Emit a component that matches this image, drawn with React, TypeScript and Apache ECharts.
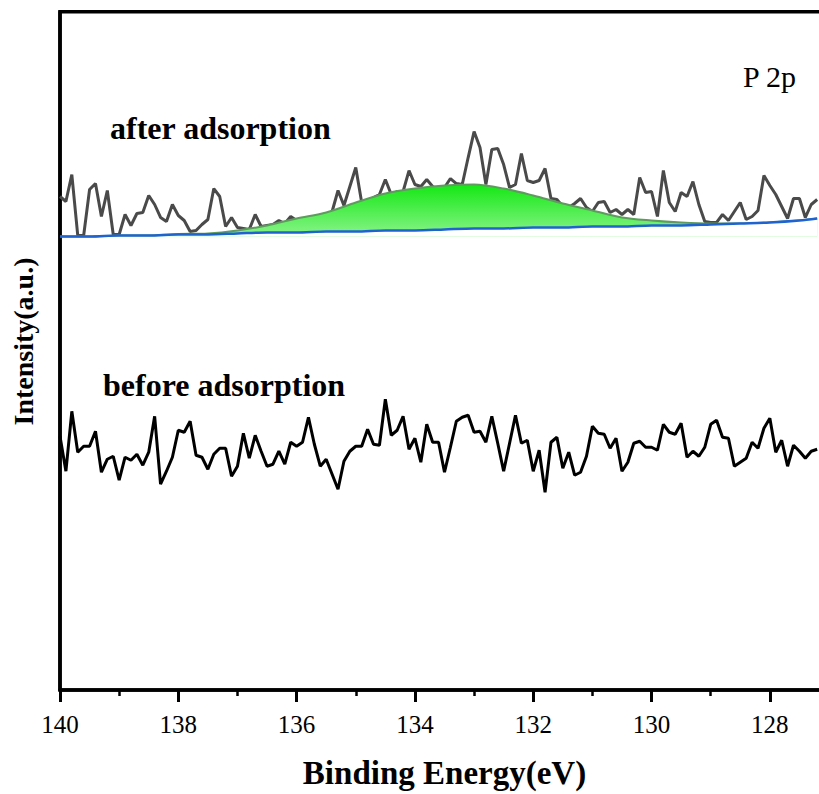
import { useEffect, useRef } from "react";
import * as echarts from "echarts";

// Binding energy grid (eV), 0.1 eV step from 140.0 to 127.2
const energies = Array.from({ length: 129 }, (_, i) => Math.round((140 - 0.1 * i) * 10) / 10);

// Raw spectrum before adsorption (a.u.)
const beforeIntensity = [
  254, 219, 279, 238, 244, 244, 259, 218, 231, 234,
  210, 233, 230, 236, 225, 238, 274, 206, 219, 233,
  260, 258, 269, 235, 233, 221, 236, 242, 242, 214,
  224, 257, 232, 255, 239, 224, 226, 239, 226, 248,
  244, 248, 273, 246, 224, 231, 216, 201, 229, 239,
  244, 244, 261, 246, 245, 291, 255, 260, 274, 241,
  252, 228, 266, 248, 248, 218, 243, 269, 273, 275,
  258, 259, 248, 274, 247, 219, 247, 275, 247, 250,
  219, 240, 198, 248, 253, 222, 238, 215, 218, 234,
  264, 257, 256, 242, 252, 219, 228, 247, 249, 243,
  243, 240, 266, 258, 256, 267, 233, 239, 234, 243,
  266, 270, 253, 252, 224, 228, 232, 248, 242, 262,
  272, 238, 250, 224, 245, 239, 232, 239, 241,
];

// Raw spectrum after adsorption (a.u.)
const afterIntensity = [
  494, 489, 516, 455, 455, 501, 507, 474, 500, 456,
  456, 476, 465, 477, 478, 495, 486, 473, 469, 486,
  475, 470, 459, 460, 466, 471, 502, 494, 464, 473,
  463, 462, 461, 476, 464, 465, 466, 470, 467, 474,
  470, 469, 468, 471, 474, 475, 479, 500, 485, 504,
  523, 488, 490, 493, 496, 511, 496, 499, 499, 520,
  506, 504, 511, 504, 501, 503, 512, 507, 506, 533,
  559, 543, 506, 541, 542, 526, 503, 506, 537, 510,
  508, 510, 522, 492, 491, 484, 483, 487, 492, 483,
  479, 488, 489, 478, 481, 476, 481, 476, 513, 498,
  499, 474, 520, 488, 479, 498, 494, 509, 486, 469,
  468, 468, 476, 470, 479, 488, 471, 474, 480, 515,
  505, 496, 484, 472, 492, 492, 473, 486, 491,
];

// Fit: background and P 2p component (height above background)
const fitEnergies = [
  140, 139.5, 139, 138.5, 138, 137.5, 137, 136.5, 136, 135.5, 135, 134.5, 134,
  133.5, 133, 132.5, 132, 131.5, 131, 130.5, 130, 129.5, 129, 128.5, 128, 127.5, 127.2,
];
const fitBackground = [
  454, 454, 455, 455, 456, 456, 457, 458, 458, 459, 459, 460, 460,
  461, 462, 462, 463, 463, 464, 464, 465, 465, 466, 467, 468, 470, 472,
];
const fitPeak = [
  0, 0, 0, 0, 0.5, 1, 3, 7, 14, 19, 29, 37, 42,
  44, 44, 40, 32, 24, 16, 9, 5, 3, 1, 0, 0, 0, 0,
];

const majorTicks = [128, 130, 132, 134, 136, 138, 140];
const minorTicks = [127, 129, 131, 133, 135, 137, 139];

export default function App() {
  const ref = useRef<HTMLDivElement>(null);

  useEffect(() => {
    document.body.style.margin = "0";
    document.body.style.overflow = "hidden";
    const chart = echarts.init(ref.current!, null, { renderer: "svg" });
    const serif = "'Liberation Serif', 'Times New Roman', serif";
    const bgMin = Math.min(...fitBackground);
    const envelope = fitEnergies.map((e, i) => [e, fitBackground[i] + fitPeak[i]]);

    chart.setOption({
      animation: false,
      backgroundColor: "#ffffff",
      grid: {
        left: 60,
        top: 11.7,
        right: 0,
        bottom: 103.3,
        show: true,
        borderColor: "#000",
        borderWidth: 3.5,
        backgroundColor: "transparent",
      },
      xAxis: [
        {
          type: "value",
          min: 127,
          max: 140,
          inverse: true,
          axisLine: { show: true, lineStyle: { color: "#000", width: 3.5 } },
          axisTick: {
            show: true,
            inside: false,
            length: 12,
            customValues: majorTicks,
            lineStyle: { color: "#000", width: 3 },
          },
          axisLabel: {
            show: true,
            customValues: majorTicks,
            fontSize: 25,
            fontFamily: serif,
            color: "#000",
            margin: 22,
          },
          splitLine: { show: false },
          name: "Binding Energy(eV)",
          nameLocation: "middle",
          nameGap: 66,
          nameTextStyle: {
            fontSize: 33,
            fontWeight: "bold",
            fontFamily: serif,
            color: "#000",
          },
        },
        {
          type: "value",
          min: 127,
          max: 140,
          inverse: true,
          position: "bottom",
          axisLine: { show: false },
          axisTick: {
            show: true,
            inside: false,
            length: 6,
            customValues: minorTicks,
            lineStyle: { color: "#000", width: 2.5 },
          },
          axisLabel: { show: false },
          splitLine: { show: false },
        },
      ],
      yAxis: {
        type: "value",
        min: 0,
        max: 679,
        axisLine: { show: true, lineStyle: { color: "#000", width: 3.5 } },
        axisTick: { show: false },
        axisLabel: { show: false },
        splitLine: { show: false },
      },
      series: [
        {
          name: "before adsorption",
          type: "line",
          data: energies.map((e, i) => [e, beforeIntensity[i]]),
          symbol: "none",
          lineStyle: { color: "#000", width: 3 },
          z: 5,
        },
        {
          name: "after adsorption",
          type: "line",
          data: energies.map((e, i) => [e, afterIntensity[i]]),
          symbol: "none",
          lineStyle: { color: "#4a4a4a", width: 3 },
          z: 2,
        },
        {
          name: "P 2p fit",
          type: "line",
          data: envelope,
          symbol: "none",
          smooth: 0.3,
          lineStyle: { color: "#5f9a5f", width: 2 },
          areaStyle: {
            opacity: 1,
            origin: bgMin,
            color: new echarts.graphic.LinearGradient(0, 0, 0, 1, [
              { offset: 0, color: "#14e814" },
              { offset: 1, color: "#8af48a" },
            ]),
          },
          z: 3,
        },
        {
          name: "background",
          type: "line",
          data: fitEnergies.map((e, i) => [e, fitBackground[i]]),
          symbol: "none",
          smooth: 0.3,
          lineStyle: { color: "#1f63cf", width: 2.5 },
          areaStyle: { opacity: 1, origin: bgMin, color: "#ffffff" },
          z: 4,
        },
      ],
      graphic: [
        {
          type: "text",
          x: 110,
          y: 127.5,
          style: {
            text: "after adsorption",
            fontSize: 32,
            fontWeight: "bold",
            fontFamily: serif,
            fill: "#000",
            align: "left",
            verticalAlign: "middle",
          },
        },
        {
          type: "text",
          x: 103,
          y: 385.2,
          style: {
            text: "before adsorption",
            fontSize: 32,
            fontWeight: "bold",
            fontFamily: serif,
            fill: "#000",
            align: "left",
            verticalAlign: "middle",
          },
        },
        {
          type: "text",
          x: 743,
          y: 76,
          style: {
            text: "P 2p",
            fontSize: 30,
            fontFamily: serif,
            fill: "#000",
            align: "left",
            verticalAlign: "middle",
          },
        },
        {
          type: "text",
          x: 23.5,
          y: 341.5,
          rotation: Math.PI / 2,
          style: {
            text: "Intensity(a.u.)",
            fontSize: 28,
            fontWeight: "bold",
            fontFamily: serif,
            fill: "#000",
            align: "center",
            verticalAlign: "middle",
          },
        },
      ],
    });

    return () => chart.dispose();
  }, []);

  return <div ref={ref} style={{ width: 829, height: 794 }} />;
}
